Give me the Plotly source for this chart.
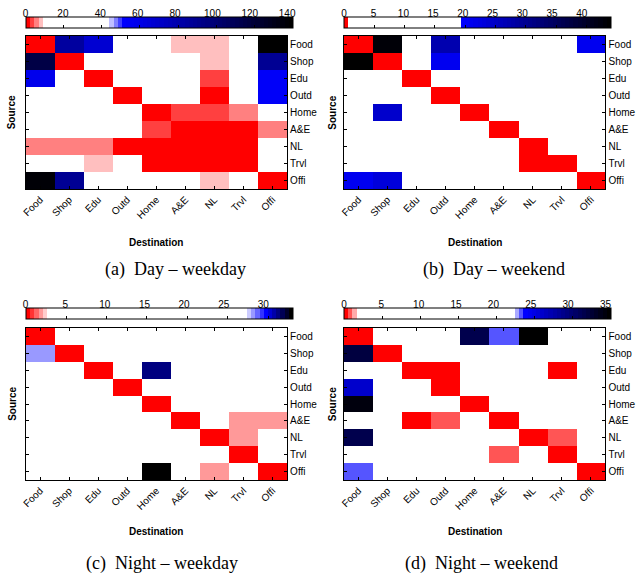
import plotly.graph_objects as go

# ---------------- data ----------------
categories = ["Food", "Shop", "Edu", "Outd", "Home", "A&E", "NL", "Trvl", "Offi"]

day_weekday = [
    [1, 85, 66, 25, 30, 7.7, 7.7, 28, 138],
    [115, 1, 22, 18, 35, 26, 7.7, 20, 88],
    [57, 24, 1, 30, 21, 19, 3.3, 27, 54],
    [31, 27, 16, 1, 29, 23, 1, 26, 54],
    [38, 33, 35, 28, 1, 3.3, 3.3, 5.5, 40],
    [36, 30, 32, 24, 3.3, 1, 1, 1, 5.5],
    [5.5, 5.5, 5.5, 1, 1, 1, 1, 1, 17],
    [24, 19, 7.7, 14, 1, 1, 1, 1, 22],
    [136, 89, 27, 33, 26, 38, 7.7, 21, 1],
]
day_weekend = [
    [0.3, 43, 8, 27, 10, 12, 6, 9, 21],
    [43.8, 0.3, 7, 21, 11, 5, 13, 8, 10],
    [9, 6, 0.3, 8, 12, 7, 10, 5, 11],
    [7, 10, 9, 0.3, 6, 11, 8, 12, 9],
    [12, 24.4, 7, 10, 0.3, 9, 6, 8, 13],
    [8, 9, 11, 6, 10, 0.3, 7, 9, 5],
    [10, 7, 8, 12, 9, 6, 0.3, 11, 8],
    [6, 11, 9, 7, 8, 10, 0.3, 0.3, 12],
    [21, 22.8, 10, 9, 7, 8, 11, 6, 0.3],
]
night_weekday = [
    [0.2, 12, 8, 15, 10, 6, 14, 9, 11],
    [28.1, 0.2, 10, 7, 13, 9, 8, 12, 6],
    [9, 11, 0.2, 8, 31.2, 10, 7, 13, 12],
    [13, 7, 9, 0.2, 11, 14, 10, 6, 8],
    [6, 10, 12, 9, 0.2, 8, 13, 11, 7],
    [11, 8, 6, 12, 9, 0.2, 10, 1.8, 1.8],
    [7, 14, 11, 10, 8, 12, 0.2, 1.8, 9],
    [12, 9, 13, 6, 7, 11, 8, 0.2, 10],
    [8, 6, 7, 11, 32.9, 9, 1.8, 12, 0.2],
]
night_weekend = [
    [0.2, 10, 8, 14, 31.4, 23.2, 34.8, 12, 9],
    [32, 0.2, 11, 7, 13, 9, 15, 6, 10],
    [8, 12, 0.2, 0.2, 10, 14, 9, 0.2, 11],
    [26, 9, 13, 0.2, 8, 11, 12, 10, 7],
    [34.2, 11, 7, 12, 0.2, 10, 8, 13, 9],
    [10, 13, 0.2, 0.8, 9, 0.2, 11, 7, 12],
    [31.5, 8, 10, 9, 12, 7, 0.2, 0.8, 13],
    [12, 7, 9, 11, 10, 0.8, 13, 0.2, 8],
    [23.2, 10, 12, 8, 11, 9, 7, 14, 0.2],
]

panel_max = [140, 44, 33, 35]
panel_dtick = [20, 5, 5, 5]
captions = ["(a)\u00a0 Day \u2013 weekday", "(b)\u00a0 Day \u2013 weekend",
            "(c)\u00a0 Night \u2013 weekday", "(d)\u00a0 Night \u2013 weekend"]

# colormap structure per panel: (red levels, first non-white level, light-blue levels)
cmap_params = [(4, 20, 3), (1, 28, 0), (5, 53, 4), (3, 41, 2)]
N_LEVELS = 64


def build_colorscale(n_red, white_end, n_lb, n=N_LEVELS):
    cols = []
    blue_start = white_end + n_lb
    m = n - blue_start
    for i in range(n):
        if i < n_red:
            t = i / n_red
            c = (255, round(255 * t), round(255 * t))
        elif i < white_end:
            c = (255, 255, 255)
        elif i < blue_start:
            k = i - white_end
            t = (n_lb - k) / (n_lb + 1)
            c = (round(255 * t), round(255 * t), 255)
        else:
            k = i - blue_start
            b = round(255 * (1 - k / (m - 1)))
            c = (0, 0, b)
        cols.append("rgb(%d,%d,%d)" % c)
    scale = []
    for i, c in enumerate(cols):
        scale.append([i / n, c])
        scale.append([(i + 1) / n, c])
    return scale


# ---------------- layout geometry (pixels) ----------------
W, H = 638, 579
left_x = [(22, 289), (347, 614), (22, 289), (347, 614)]
heat_y = [(36, 189), (36, 189), (328, 480), (328, 480)]
cbar_y = [(17, 28), (17, 28), (308, 319), (308, 319)]
src_x = [8, 335, 8, 335]
dest_y = [242, 242, 531, 531]
cap_x = [175, 500, 161, 487]
cap_y = [269, 269, 563, 563]


def px(x):
    return x / W


def py(y):
    return 1 - y / H


data = [day_weekday, day_weekend, night_weekday, night_weekend]

fig = go.Figure()
layout = dict(width=W, height=H, margin=dict(l=0, r=0, t=0, b=0),
              paper_bgcolor="white", plot_bgcolor="white", showlegend=False,
              font=dict(family="Liberation Sans, Arial, sans-serif", size=10, color="black"),
              annotations=[])

axis_common = dict(showline=True, linecolor="black", linewidth=1, mirror="ticks",
                   ticks="inside", ticklen=3, tickcolor="black", showgrid=False,
                   zeroline=False, tickfont=dict(size=10, color="black"),
                   fixedrange=True)

for p in range(4):
    sfx = "" if p == 0 else str(p + 1)
    ca = "coloraxis" + sfx
    x0, x1 = left_x[p]
    y0, y1 = heat_y[p]
    fig.add_trace(go.Heatmap(z=data[p], x=categories, y=categories, coloraxis=ca,
                             xaxis="x" + sfx, yaxis="y" + sfx, xgap=0, ygap=0))
    layout["xaxis" + sfx] = dict(axis_common, domain=[px(x0), px(x1)], anchor="y" + sfx,
                                 tickangle=-45, type="category")
    layout["yaxis" + sfx] = dict(axis_common, domain=[py(y1), py(y0)], anchor="x" + sfx,
                                 side="right", autorange="reversed", type="category")

    cb0, cb1 = cbar_y[p]
    layout[ca] = dict(
        cmin=0, cmax=panel_max[p],
        colorscale=build_colorscale(*cmap_params[p]),
        colorbar=dict(orientation="h", x=px(x0), xanchor="left", y=py(cb0), yanchor="top",
                      len=x1 - x0, lenmode="pixels", thickness=cb1 - cb0,
                      thicknessmode="pixels", xpad=0, ypad=0,
                      outlinewidth=1, outlinecolor="black",
                      ticks="inside", ticklen=3, tickcolor="black",
                      tick0=0, dtick=panel_dtick[p], showticklabels=False),
    )
    # tick-label axis above the colour bar (carries an invisible trace so it is drawn)
    k = str(p + 5)
    fig.add_trace(go.Scatter(x=[0, panel_max[p]], y=[0.5, 0.5], mode="markers",
                             marker=dict(opacity=0, size=1), hoverinfo="skip",
                             showlegend=False, xaxis="x" + k, yaxis="y" + k))
    layout["xaxis" + k] = dict(domain=[px(x0), px(x1)], anchor="y" + k, side="top",
                               range=[0, panel_max[p]], tick0=0, dtick=panel_dtick[p],
                               showline=False, ticks="", showgrid=False, zeroline=False,
                               tickfont=dict(size=10, color="black"), fixedrange=True)
    layout["yaxis" + k] = dict(domain=[py(cb1), py(cb0 + 3)], anchor="x" + k,
                               showticklabels=False, showline=False, ticks="",
                               showgrid=False, zeroline=False,
                               range=[0, 1], fixedrange=True)

    layout["annotations"] += [
        dict(text="<b>Source</b>", x=px(src_x[p]), y=(py(y0) + py(y1)) / 2,
             xref="paper", yref="paper", textangle=-90, showarrow=False,
             font=dict(size=10), xanchor="center", yanchor="middle"),
        dict(text="<b>Destination</b>", x=(px(x0) + px(x1)) / 2, y=py(dest_y[p]),
             xref="paper", yref="paper", showarrow=False, font=dict(size=10),
             xanchor="center", yanchor="middle"),
        dict(text=captions[p], x=px(cap_x[p]), y=py(cap_y[p]), xref="paper", yref="paper",
             showarrow=False, xanchor="center", yanchor="middle",
             font=dict(family="Liberation Serif, Times New Roman, serif", size=18)),
    ]

fig.update_layout(**layout)
fig.write_html("out.html", config={"displayModeBar": False},
               post_script="document.body.style.margin='0';document.body.style.overflow='hidden';")
